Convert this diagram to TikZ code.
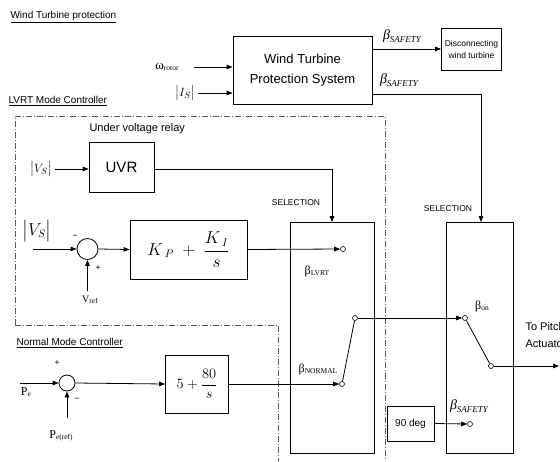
\documentclass[tikz,border=0pt]{standalone}
\usepackage{amsmath}
\usepackage{fontspec}
\setmainfont{Liberation Sans}
\newfontfamily\tnr{Liberation Serif}
\usetikzlibrary{arrows.meta}
\newcommand{\tsub}[2]{{\tnr #1\raisebox{-0.15ex}{\fontsize{7.5}{8}\selectfont #2}}}
\newcommand{\bsafe}{{\tnr\itshape\fontsize{14}{15}\selectfont β\raisebox{-0.4ex}{\fontsize{9}{10}\selectfont SAFETY}}}
\tikzset{
  blk/.style={draw, line width=0.8pt, align=center},
  sumnode/.style={draw, circle, line width=0.8pt, inner sep=0pt},
  term/.style={draw, circle, line width=0.6pt, inner sep=0pt, minimum size=5pt},
  arr/.style={line width=0.8pt, -{Triangle[length=6pt,width=4.5pt]}},
  wire/.style={line width=0.8pt},
  frame/.style={line width=0.6pt, gray!70!black, dash pattern=on 6pt off 2pt on 1pt off 2pt},
  title/.style={font=\fontsize{10}{11}\selectfont, anchor=west},
  small/.style={font=\fontsize{8.5}{9}\selectfont}
}
\begin{document}
\begin{tikzpicture}[x=1pt,y=-1pt]
        \useasboundingbox (0,0) rectangle (560,461);
        % section titles
        \node[title] (wtptitle) at (7,17) {\underline{Wind Turbine protection}};
        \node[title] (lvrttitle) at (5,101) {\underline{LVRT Mode Controller}};
        \node[title] (nmctitle) at (13,343) {\underline{Normal Mode Controller}};
        
        % dash-dot frames
        \draw[frame] (15,325) -- (15,116) -- (385,116) -- (385,461);
        \draw[frame] (15,325) -- (278,325) -- (278,461);
        
        % protection system
        \node[blk, minimum width=139pt, minimum height=68pt, font=\fontsize{13}{20}\selectfont] (wtps) at (302.5,70) {Wind Turbine\\Protection System};
        \node (omega) at (167,67) {\tsub{\fontsize{13}{14}\selectfont ω}{rotor}};
        \node (is) at (185,93) {\fontsize{13}{14}\selectfont $\bigl|I_S\bigr|$};
        \draw[arr] ([xshift=12pt]omega.east) -- (wtps.west |- omega);
        \draw[arr] (is.east) -- (wtps.west |- is);
        
        \node[blk, minimum width=57pt, minimum height=42pt, font=\fontsize{8.5}{12}\selectfont] (disc) at (471.5,49) {Disconnecting\\wind turbine};
        \draw[arr] (wtps.east |- disc) -- (disc.west);
        \node (bs1) at (402,36) {\bsafe};
        \node (bs2) at (399,80) {\bsafe};
        \coordinate (wtpsout) at (372,94);
        
        % under voltage relay
        \node[font=\fontsize{11}{12}\selectfont, anchor=west] (uvrtxt) at (86,129) {Under voltage relay};
        \node[blk, minimum width=65pt, minimum height=50pt, font=\fontsize{15}{16}\selectfont] (uvr) at (121.5,167) {UVR};
        \node (vs1) at (41,169) {\fontsize{13}{14}\selectfont $\bigl|V_S\bigr|$};
        \draw[arr] (vs1.east) -- (uvr.west |- vs1);
        
        % selection blocks
        \node[blk, minimum width=84pt, minimum height=231pt] (sel1) at (332,338) {};
        \node[blk, minimum width=67pt, minimum height=231pt] (sel2) at (479.5,338) {};
        \node[small] (sel1txt) at (296,203) {SELECTION};
        \node[small] (sel2txt) at (448,209) {SELECTION};
        \draw[arr] (uvr.east |- vs1) -| (sel1.north);
        \draw[arr] (wtpsout) -| ([xshift=1.5pt]sel2.north);
        
        % LVRT PI loop
        \node[sumnode, minimum size=21pt] (sum1) at (87.5,249) {};
        \node (vs2) at (37,231) {\fontsize{16}{18}\selectfont $\bigl|V_S\bigr|$};
        \coordinate (in1) at (33,249);
        \node (vref) at (90,300) {\tsub{\fontsize{10}{11}\selectfont V}{ref}};
        \coordinate (vrefin) at (87.5,291);
        \node[small] (m1) at (75,237) {\textminus};
        \node[small] (p1) at (98,268) {+};
        \draw[arr] (in1) -- (sum1.west);
        \draw[arr] (vrefin) -- (sum1.south);
        \node[blk, minimum width=117pt, minimum height=59pt, font=\fontsize{16}{19}\selectfont] (kpi) at (188.5,249.5) {$K_{\;P}\;+\;\dfrac{K_{\;I}}{s}$};
        \draw[arr] (sum1.east) -- (kpi.west);
        
        % switch 1
        \node[term] (tlvrt) at (343,249) {};
        \node[term] (tout1) at (355,318) {};
        \node[term] (tnorm) at (342,384) {};
        \draw[arr] (kpi.east) -- (tlvrt.west);
        \draw[wire] (tnorm) -- (tout1);
        \node (blvrt) at (317,272) {\tsub{\fontsize{12}{13}\selectfont β}{LVRT}};
        \node (bnorm) at (318,370) {\tsub{\fontsize{12}{13}\selectfont β}{NORMAL}};
        
        % normal mode loop
        \node[sumnode, minimum size=16pt] (sum2) at (67,383) {};
        \coordinate (in2) at (20,383);
        \node (pe) at (26,392) {\tsub{\fontsize{12}{13}\selectfont P}{e}};
        \node (peref) at (61,436) {\tsub{\fontsize{12}{13}\selectfont P}{e(ref)}};
        \coordinate (refin) at (67,418);
        \node[small] (p2) at (57,363) {+};
        \node[small] (m2) at (77,400) {\textminus};
        \draw[arr] (in2) -- (sum2.west);
        \draw[arr] (refin) -- (sum2.south);
        \node[blk, minimum width=63pt, minimum height=58pt, font=\fontsize{15}{18}\selectfont] (pib) at (197,384) {$5+\dfrac{80}{s}$};
        \draw[arr] (sum2.east) -- (pib.west);
        \draw[arr] (pib.east) -- (tnorm.west);
        
        % switch 2
        \node[term] (tin2) at (465,318) {};
        \node[term] (tsw) at (491,366) {};
        \node[term] (tsafe) at (470,424) {};
        \coordinate (pitch) at (559,366);
        \draw[arr] (tout1.east) -- (tin2.west);
        \draw[wire] (tin2) -- (tsw);
        \draw[arr] (tsw.east) -- (pitch);
        \node (bon) at (482,307) {\tsub{\fontsize{12}{13}\selectfont β}{on}};
        \node[font=\fontsize{11}{17}\selectfont, anchor=west, align=left] (pitchtxt) at (522,335) {To Pitch\\Actuator};
        
        \node[blk, minimum width=47pt, minimum height=35pt, font=\fontsize{10}{12}\selectfont] (deg) at (410.5,423.5) {90 deg};
        \draw[arr] (deg.east) -- (tsafe.west);
        \node (bs3) at (469,406) {\bsafe};
\end{tikzpicture}
\end{document}
